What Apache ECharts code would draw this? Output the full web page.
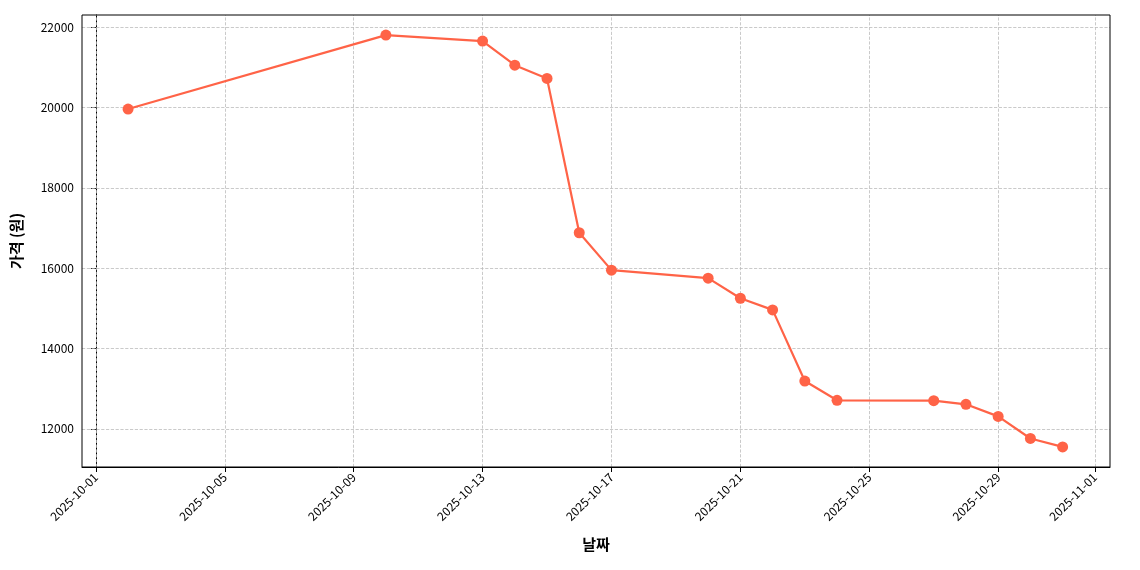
<!DOCTYPE html>
<html><head><meta charset="utf-8">
<script src="https://cdn.jsdelivr.net/npm/echarts@6/dist/echarts.min.js"></script>
<style>body{margin:0}#c{width:1140px;height:570px}</style></head>
<body><div id="c"></div>
<script>
const dates = ['2025-10-02','2025-10-10','2025-10-13','2025-10-14','2025-10-15','2025-10-16','2025-10-17','2025-10-20','2025-10-21','2025-10-22','2025-10-23','2025-10-24','2025-10-27','2025-10-28','2025-10-29','2025-10-30','2025-10-31'];
const prices = [19960,21800,21650,21050,20720,16880,15950,15750,15250,14960,13190,12710,12700,12610,12310,11760,11550];
const xTickLabels = ['2025-10-01','2025-10-05','2025-10-09','2025-10-13','2025-10-17','2025-10-21','2025-10-25','2025-10-29','2025-11-01'];
const yTicks = [12000,14000,16000,18000,20000,22000];

const base = Date.UTC(2025,9,1);
const dayOf = s => { const [y,m,d]=s.split('-').map(Number); return (Date.UTC(y,m-1,d)-base)/86400000; };
const xTicks = xTickLabels.map(dayOf);
const labelMap = {}; xTicks.forEach((v,i)=>labelMap[v]=xTickLabels[i]);
const grid = {type:'dashed',color:'#bdbdbd',width:0.8};
const chart = echarts.init(document.getElementById('c'));
chart.setOption({
  animation:false,
  grid:{left:82,right:30,top:15,bottom:103,show:true,borderColor:'#000',borderWidth:1,z:10},
  xAxis:{type:'value',min:-0.43,max:31.47,name:'날짜',nameLocation:'middle',nameGap:70,
    nameTextStyle:{fontFamily:'Noto Sans CJK KR',fontWeight:'bold',fontSize:15,color:'#000'},
    axisLine:{show:true,lineStyle:{color:'#000'}},splitLine:{show:false},
    axisTick:{show:true,inside:false,customValues:xTicks,length:5,lineStyle:{color:'#000'}},
    axisLabel:{customValues:xTicks,rotate:45,margin:8,fontSize:12,color:'#000',fontFamily:'Noto Sans CJK KR',formatter:v=>labelMap[v]||''}},
  yAxis:{type:'value',min:11050,max:22300,name:'가격 (원)',nameLocation:'middle',nameGap:58,
    nameTextStyle:{fontFamily:'Noto Sans CJK KR',fontWeight:'bold',fontSize:15,color:'#000'},
    axisLine:{show:true,lineStyle:{color:'#000'}},splitLine:{show:false},
    axisTick:{show:true,inside:false,customValues:yTicks,length:5,lineStyle:{color:'#000'}},
    axisLabel:{customValues:yTicks,fontSize:12,color:'#000',fontFamily:'Noto Sans CJK KR',formatter:v=>String(v)}},
  series:[{type:'line',data:dates.map((d,i)=>[dayOf(d),prices[i]]),
    color:'#ff6347',lineStyle:{width:2.2},symbol:'circle',symbolSize:11,itemStyle:{color:'#ff6347'},
    markLine:{silent:true,symbol:'none',label:{show:false},lineStyle:grid,z:1,
      data:xTicks.map(v=>({xAxis:v})).concat(yTicks.map(v=>({yAxis:v})))},z:3}]
});
</script></body></html>
